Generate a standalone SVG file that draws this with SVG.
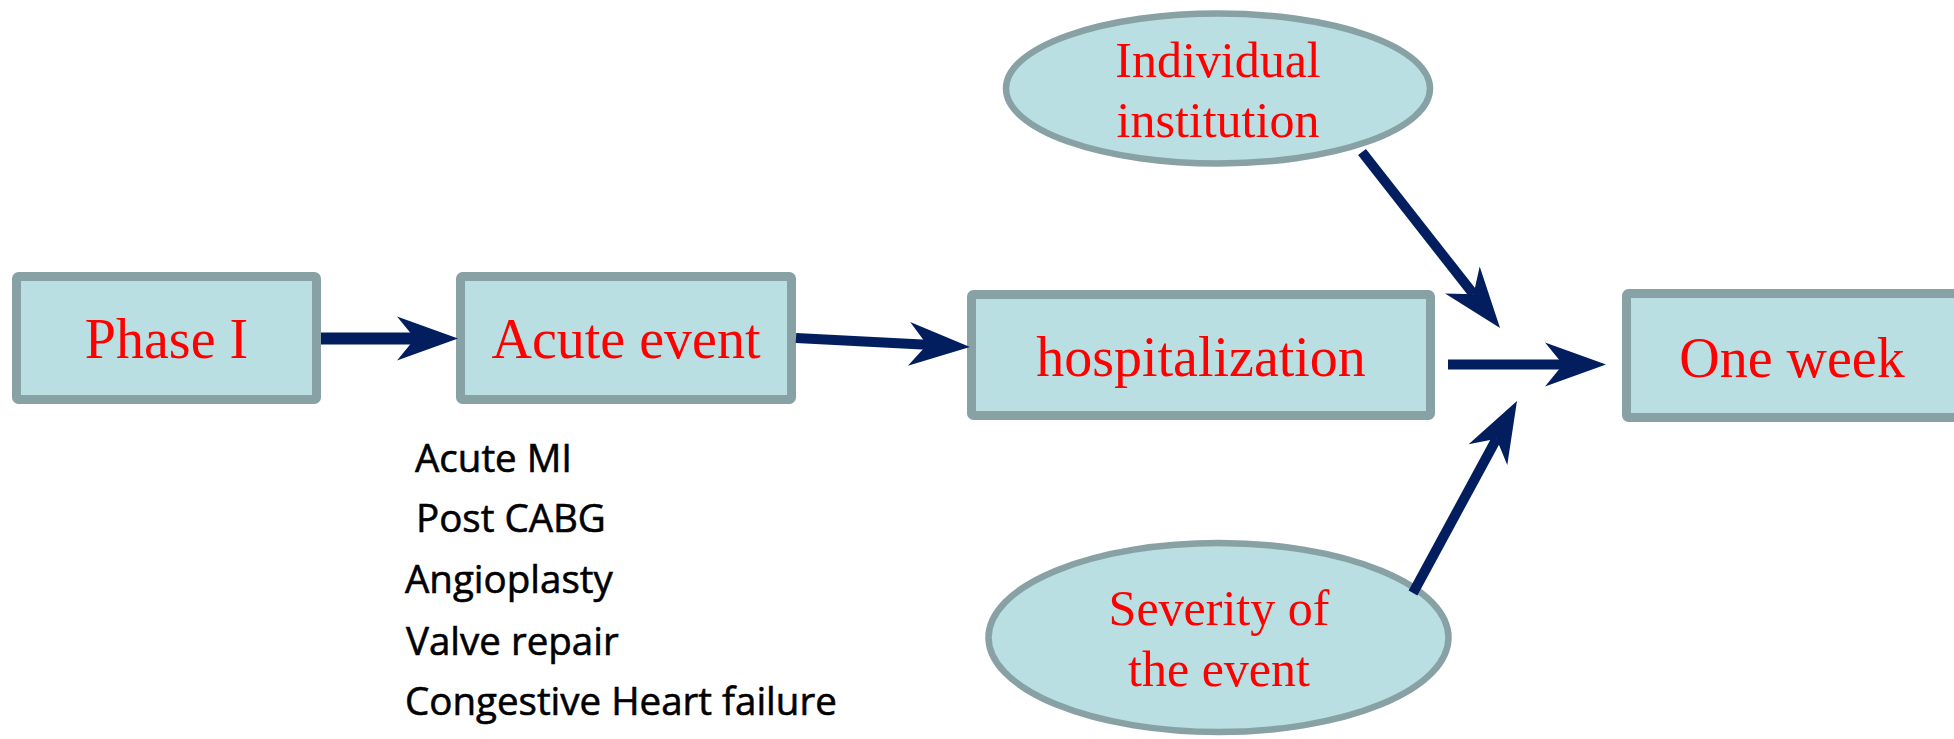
<svg xmlns="http://www.w3.org/2000/svg" width="1954" height="739" viewBox="0 0 1954 739">
  <defs>
    <style>
      .box { fill: #B9DFE2; stroke: #87A1A4; stroke-width: 9; }
      .oval { fill: #B9DFE2; stroke: #87A1A4; stroke-width: 6.5; }
      .lbl { font-family: "Liberation Serif", "Times New Roman", serif; fill: #FF0000; text-anchor: middle; }
      .big { font-size: 56px; }
      .small { font-size: 50px; }
      .note { font-family: "Open Sans", "Liberation Sans", sans-serif; font-size: 38.5px; fill: #000000; stroke: #000000; stroke-width: 0.6; }
      .conn { stroke: #021E5E; stroke-width: 10; fill: none; marker-end: url(#head); }
    </style>
    <!-- notched arrowhead; origin sits at the notch, tip points along +x -->
    <marker id="head" markerUnits="userSpaceOnUse" orient="auto" refX="0" refY="0"
            markerWidth="80" markerHeight="60" overflow="visible">
      <path d="M43,0 L-18,-22 L0,0 L-18,22 Z" fill="#021E5E"/>
    </marker>
  </defs>

  <rect width="1954" height="739" fill="#FFFFFF"/>

  <g id="phase-i">
    <rect class="box" x="16.5" y="276.5" width="300" height="123" rx="2"/>
    <text class="lbl big" x="166.5" y="358">Phase I</text>
  </g>

  <g id="acute-event">
    <rect class="box" x="460.5" y="276.5" width="331" height="123" rx="2"/>
    <text class="lbl big" x="626" y="358">Acute event</text>
  </g>

  <g id="acute-event-list">
    <text class="note" x="415" y="472">Acute MI</text>
    <text class="note" x="416" y="532">Post CABG</text>
    <text class="note" x="405" y="593">Angioplasty</text>
    <text class="note" x="406" y="655">Valve repair</text>
    <text class="note" x="405" y="715">Congestive Heart failure</text>
  </g>

  <g id="hospitalization">
    <rect class="box" x="971.5" y="294.5" width="459" height="121" rx="2"/>
    <text class="lbl big" x="1201" y="376">hospitalization</text>
  </g>

  <g id="one-week">
    <rect class="box" x="1626.5" y="293.5" width="335" height="124" rx="2"/>
    <text class="lbl big" x="1792" y="377">One week</text>
  </g>

  <g id="individual-institution">
    <ellipse class="oval" cx="1218" cy="88.5" rx="212" ry="75"/>
    <text class="lbl small" x="1218" y="77">Individual</text>
    <text class="lbl small" x="1218" y="137">institution</text>
  </g>

  <g id="severity">
    <ellipse class="oval" cx="1218.5" cy="637.5" rx="230" ry="94.5"/>
    <text class="lbl small" x="1219" y="625">Severity of</text>
    <text class="lbl small" x="1219" y="686">the event</text>
  </g>

  <g id="connectors">
    <line class="conn" x1="321" y1="338.5" x2="415" y2="338.5" style="stroke-width:12"/>
    <line class="conn" x1="796" y1="338" x2="927" y2="344.8"/>
    <line class="conn" x1="1448" y1="364.5" x2="1563" y2="364.5"/>
    <line class="conn" x1="1362" y1="152" x2="1473.5" y2="294.2"/>
    <line class="conn" x1="1413" y1="593" x2="1496.5" y2="438.8"/>
  </g>
</svg>
